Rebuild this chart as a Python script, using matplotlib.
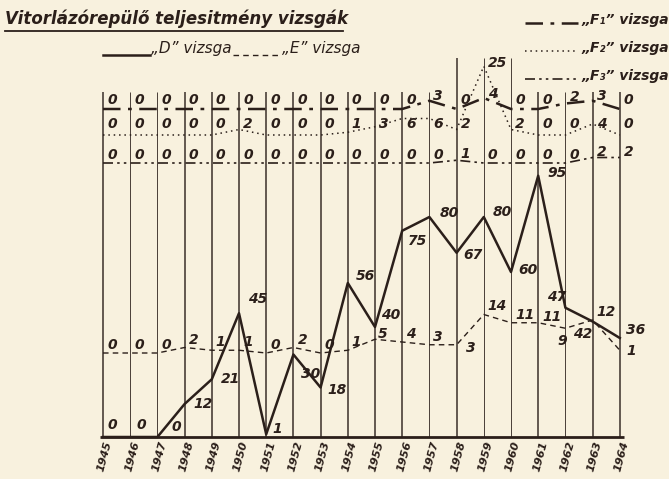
import matplotlib.pyplot as plt
from matplotlib.lines import Line2D

# data (1945-1964)
years = list(range(1945, 1965))
d_vizsga = [0, 0, 0, 12, 21, 45, 1, 30, 18, 56, 40, 75, 80, 67, 80, 60, 95, 47, 42, 36]
e_vizsga = [0, 0, 0, 2, 1, 1, 0, 2, 0, 1, 5, 4, 3, 3, 14, 11, 11, 9, 12, 1]
f1_vizsga = [0, 0, 0, 0, 0, 0, 0, 0, 0, 0, 0, 0, 3, 0, 4, 0, 0, 2, 3, 0]
f2_vizsga = [0, 0, 0, 0, 0, 2, 0, 0, 0, 1, 3, 6, 6, 2, 25, 2, 0, 0, 4, 0]
f3_vizsga = [0, 0, 0, 0, 0, 0, 0, 0, 0, 0, 0, 0, 0, 1, 0, 0, 0, 0, 2, 2]

title = "Vitorlázórepülő teljesitmény vizsgák"

INK = "#2b1f1a"
PAPER = "#f8f1de"
FONT = ["Liberation Sans Narrow", "DejaVu Sans"]

W, H = 669, 479
PX = 2.75          # pixels per unit
X0, DX = 103, 27.2  # pixel of 1945 line, pixels per year
BASE = 437          # pixel row of the zero line

# baselines of the separate bands (in units above the main zero line)
e_base = (BASE - 353) / PX
f3_base = (BASE - 163) / PX
f2_base = (BASE - 135) / PX
f1_base = (BASE - 109) / PX

fig = plt.figure(figsize=(W / 100, H / 100), dpi=100, facecolor=PAPER)
ax = fig.add_axes([0, 0, 1, 1])
ax.set_facecolor(PAPER)
ax.set_xlim(1945 - X0 / DX, 1945 + (W - X0) / DX)
ax.set_ylim(-(H - BASE) / PX, BASE / PX)
ax.axis("off")

# grid of year lines
thin_years = [1946, 1947, 1957, 1959, 1960, 1962]
tall_years = [1958, 1959, 1960]
for yr in years:
    top = 138 if yr in tall_years else 125.5
    lw = 0.7 if yr in thin_years else 1.2
    ax.vlines(yr, 0, top, color=INK, lw=lw, alpha=0.85)
ax.hlines(0, 1944.9, 1964.15, color=INK, lw=2)

# year labels
for yr in years:
    ax.annotate(str(yr), (yr, 0), xytext=(6, -4), textcoords="offset pixels",
                rotation=75, rotation_mode="anchor", ha="right", va="center",
                fontsize=8, fontweight="bold", style="italic", family=FONT, color=INK)

# series
ax.plot(years, d_vizsga, color=INK, lw=1.8)
ax.plot(years, [e_base + v for v in e_vizsga], color=INK, lw=1.0, dashes=(4, 3))
ax.plot(years, [f1_base + v for v in f1_vizsga], color=INK, lw=1.8, dashes=(7, 3, 1.5, 3))
ax.plot(years, [f2_base + v for v in f2_vizsga], color=INK, lw=1.1, dashes=(1, 2.5))
ax.plot(years, [f3_base + v for v in f3_vizsga], color=INK, lw=1.2, dashes=(6, 2.5, 1.5, 2.5, 1.5, 2.5))

lab = dict(fontsize=10, fontweight="bold", style="italic", family=FONT, color=INK,
           textcoords="offset pixels", ha="left", va="center")

d_off = {1945: (5, 12), 1946: (6, 12), 1947: (14, 10), 1948: (9, 0), 1949: (9, 0),
         1950: (9, 14), 1951: (6, 5), 1952: (8, -20), 1953: (7, -2), 1954: (8, 7),
         1955: (6, 12), 1956: (6, -10), 1957: (10, 4), 1958: (7, -2), 1959: (9, 5),
         1960: (7, 2), 1961: (9, 3), 1962: (-18, 11), 1963: (-20, -13), 1964: (6, 8)}
for yr, v in zip(years, d_vizsga):
    ax.annotate(str(v), (yr, v), xytext=d_off[yr], **lab)

e_off = {1955: (3, 5), 1958: (9, -3), 1961: (4, 6), 1962: (-8, -13), 1964: (7, -1)}
for yr, v in zip(years, e_vizsga):
    ax.annotate(str(v), (yr, e_base + v), xytext=e_off.get(yr, (4, 8)), **lab)

# band labels sit in a row above each band line
for yr, v in zip(years, f1_vizsga):
    ax.annotate(str(v), (yr, f1_base), xytext=(4, 9 + 1.5 * v), **lab)
for yr, v in zip(years, f2_vizsga):
    if v >= 20:
        ax.annotate(str(v), (yr, f2_base + v), xytext=(4, 3), **lab)
    else:
        ax.annotate(str(v), (yr, f2_base), xytext=(4, 11), **lab)
for yr, v in zip(years, f3_vizsga):
    ax.annotate(str(v), (yr, f3_base), xytext=(4, 8 + 1.5 * v), **lab)


# title and legend in figure pixels
def fx(px):
    return px / W


def fy(py):
    return 1 - py / H


txt = dict(color=INK, style="italic", family=FONT, va="center")
fig.text(fx(5), fy(19), title, fontsize=12, fontweight="bold", **txt)
fig.add_artist(Line2D([fx(5), fx(343)], [fy(31), fy(31)], color=INK, lw=1.3))

fig.add_artist(Line2D([fx(103), fx(150)], [fy(55), fy(55)], color=INK, lw=1.8))
fig.text(fx(151), fy(49), "„D” vizsga", fontsize=11, **txt)
fig.add_artist(Line2D([fx(233), fx(280)], [fy(55), fy(55)], color=INK, lw=1.0, dashes=(4, 3)))
fig.text(fx(282), fy(49), "„E” vizsga", fontsize=11, **txt)

legend_f = [
    ("„F₁” vizsga", 20, dict(lw=1.8, dashes=(7, 3, 1.5, 3))),
    ("„F₂” vizsga", 48, dict(lw=1.1, dashes=(1, 2.5))),
    ("„F₃” vizsga", 76, dict(lw=1.2, dashes=(6, 2.5, 1.5, 2.5, 1.5, 2.5))),
]
for label, py, style in legend_f:
    fig.add_artist(Line2D([fx(525), fx(578)], [fy(py + 3), fy(py + 3)], color=INK, **style))
    fig.text(fx(581), fy(py), label, fontsize=10, fontweight="bold", **txt)

fig.savefig("out.png", dpi=100, facecolor=PAPER)
